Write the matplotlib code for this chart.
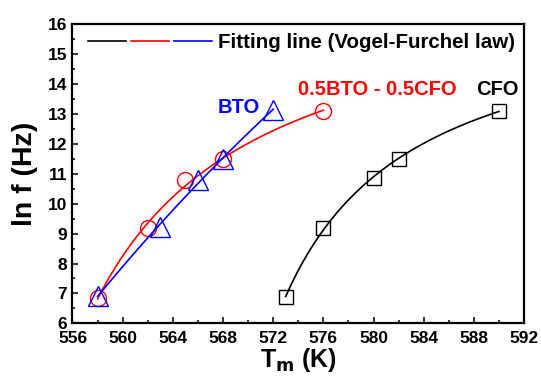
import numpy as np
import matplotlib
matplotlib.use('Agg')
import matplotlib.pyplot as plt
from matplotlib.legend_handler import HandlerTuple
from matplotlib.ticker import MultipleLocator

plt.rcParams['font.family'] = ['Liberation Sans', 'DejaVu Sans']
plt.rcParams['font.weight'] = 'bold'

# measured points, T_m (K) and ln f (Hz)
cfo_T = [573, 576, 580, 582, 590]
cfo_lnf = [6.88, 9.18, 10.85, 11.5, 13.1]
mix_T = [558, 562, 565, 568, 576]
mix_lnf = [6.85, 9.18, 10.8, 11.48, 13.1]
bto_T = [558, 563, 566, 568, 572]
bto_lnf = [6.92, 9.22, 10.8, 11.5, 13.14]


def vf_fit(T, lnf):
    """least squares Vogel-Fulcher fit: ln f = a - b/(T - Tf)"""
    T = np.asarray(T, float)
    lnf = np.asarray(lnf, float)
    best = None
    for Tf in np.arange(T.min() - 300, T.min() - 0.05, 0.05):
        A = np.column_stack([np.ones_like(T), -1.0 / (T - Tf)])
        coef, res, _, _ = np.linalg.lstsq(A, lnf, rcond=None)
        err = np.sum((A @ coef - lnf) ** 2)
        if best is None or err < best[0]:
            best = (err, Tf, coef)
    _, Tf, (a, b) = best
    tt = np.linspace(T.min(), T.max(), 200)
    return tt, a - b / (tt - Tf)


fig, ax = plt.subplots(figsize=(5.41, 3.76), dpi=100)
fig.subplots_adjust(left=0.134, right=0.9686, top=0.936, bottom=0.140)

series = [
    (cfo_T, cfo_lnf, 'black', 's', 9.5),
    (mix_T, mix_lnf, 'red', 'o', 11.5),
    (bto_T, bto_lnf, 'blue', '^', 14),
]
fit_lines = []
for T, lnf, c, m, ms in series:
    tt, yy = vf_fit(T, lnf)
    ln, = ax.plot(tt, yy, color=c, lw=1.2)
    fit_lines.append(ln)
    ax.plot(T, lnf, linestyle='none', marker=m, ms=ms, mfc='none',
            mec=c, mew=1.0)

ax.text(567.6, 13.2, 'BTO', color='blue', fontsize=14.5, fontweight='bold',
        va='center')
ax.text(573.95, 13.8, '0.5BTO - 0.5CFO', color='red', fontsize=14.5,
        fontweight='bold', va='center')
ax.text(588.2, 13.8, 'CFO', color='black', fontsize=14.5, fontweight='bold',
        va='center')

ax.legend([tuple(fit_lines)], ['Fitting line (Vogel-Furchel law)'],
          handler_map={tuple: HandlerTuple(ndivide=None, pad=0.25)},
          handlelength=6.0, handletextpad=0.3, loc='upper right',
          frameon=False, prop={'size': 14.8, 'weight': 'bold'},
          borderaxespad=0.05, bbox_to_anchor=(1.0, 1.0))

ax.set_xlim(556, 592)
ax.set_ylim(6, 16)
ax.xaxis.set_major_locator(MultipleLocator(4))
ax.xaxis.set_minor_locator(MultipleLocator(2))
ax.yaxis.set_major_locator(MultipleLocator(1))
ax.yaxis.set_minor_locator(MultipleLocator(0.5))
ax.tick_params(which='both', direction='in', top=False, right=False,
               labelsize=12.5, width=1.1, pad=4)
ax.tick_params(axis='x', pad=5.5)
ax.tick_params(which='major', length=4.5)
ax.tick_params(which='minor', length=2.5)
for lab in ax.get_xticklabels() + ax.get_yticklabels():
    lab.set_fontweight('bold')
for s in ax.spines.values():
    s.set_linewidth(1.6)

ax.set_xlabel(r'T$_\mathbf{m}$ (K)', fontsize=18, fontweight='bold', labelpad=0)
ax.set_ylabel('ln f (Hz)', fontsize=20.5, fontweight='bold', labelpad=7)

plt.savefig('out.png', dpi=100)
